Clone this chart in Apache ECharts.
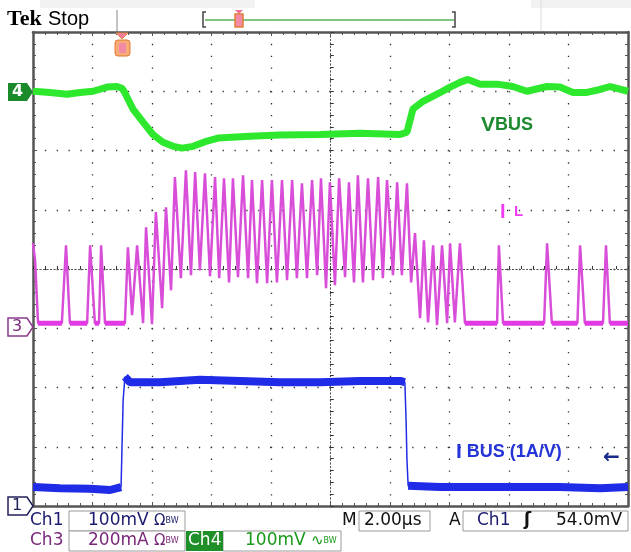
<!DOCTYPE html>
<html>
<head>
<meta charset="utf-8">
<script src="https://cdn.jsdelivr.net/npm/echarts@6/dist/echarts.min.js"></script>
<style>
  html, body { margin: 0; padding: 0; background: #fff; }
  #myChart { width: 631px; height: 552px; }
</style>
</head>
<body>
<div id="myChart"></div>
<script>
// time is in µs from the screen centre, 2.00µs/div
// Ch4 VBUS (AC, mV), Ch3 IL (mA), Ch1 IBUS (mV, 1A/V)
const ch4Time = [-10.00, -9.43, -8.86, -8.42, -7.98, -7.51, -7.18, -7.01, -6.94, -6.64, -6.30, -5.97, -5.63, -5.29,
  -4.99, -4.62, -4.15, -3.78, -2.71, -1.71, -0.35, 0.99, 2.34, 2.57, 2.77, 3.11, 3.58, 4.02, 4.35, 4.62, 5.03,
  5.60, 6.13, 6.60, 7.28, 7.71, 8.15, 8.62, 9.06, 9.40, 10.00];
const ch4Mv = [0, -2, -5, -2, 0, 7, 8, 5, 0, -30, -52, -73, -86, -93,
  -96, -93, -84, -79, -76, -74, -73, -71, -73, -69, -30, -17, -5, 7, 15, 20, 12,
  12, 8, 0, 8, 7, -2, -2, 3, 8, 0];

const ch3Time = [-10.00, -9.93, -9.83, -9.03, -8.89, -8.76, -8.18, -8.08, -7.92, -7.78, -7.71, -7.58, -6.91,
  -6.81, -6.67, -6.50, -6.30, -6.20, -6.00, -5.87, -5.66, -5.53, -5.36, -5.23, -5.03, -4.86, -4.69, -4.55, -4.39,
  -4.22, -4.05, -3.88, -3.74, -3.58, -3.41, -3.28, -3.11, -2.94, -2.77, -2.64, -2.47, -2.30, -2.13, -1.97, -1.80,
  -1.63, -1.46, -1.29, -1.13, -0.96, -0.79, -0.62, -0.45, -0.32, -0.15, -0.02, 0.15, 0.29, 0.49, 0.62, 0.79,
  0.92, 1.09, 1.26, 1.43, 1.60, 1.76, 1.90, 2.10, 2.24, 2.40, 2.57, 2.71, 2.84, 3.01, 3.14, 3.28, 3.45, 3.58,
  3.75, 3.92, 4.02, 4.18, 4.35, 4.52, 5.60, 5.66, 5.80, 7.18, 7.28, 7.44, 8.30, 8.39, 8.55, 9.16, 9.26, 9.39, 10.00];
const ch3Ma = [287, 230, 17, 17, 280, 17, 17, 280, 17, 17, 280, 17, 17,
  273, 44, 280, 17, 341, 14, 392, 68, 408, 128, 510, 169, 533, 179, 527, 196,
  523, 176, 510, 169, 506, 155, 506, 172, 516, 169, 500, 152, 500, 152, 500, 155,
  500, 162, 500, 169, 489, 169, 500, 179, 506, 135, 493, 145, 506, 172, 493, 155,
  516, 155, 506, 162, 510, 169, 500, 179, 493, 179, 489, 155, 321, 34, 297, 20, 280, 10,
  280, 17, 287, 20, 287, 17, 17, 280, 17, 17, 287, 17, 17, 280, 17, 17, 280, 17, 17];

const ch1Time = [-10.00, -9.09, -8.08, -7.41, -7.04, -7.01, -6.97, -6.91, -6.74, -5.73, -4.39, -3.04, -1.70,
  -0.35, 0.99, 2.34, 2.50, 2.54, 2.57, 2.61, 3.68, 5.03, 6.37, 7.71, 9.06, 10.00];
const ch1Mv = [32, 30, 29, 27, 32, 95, 179, 218, 209, 209, 213, 211, 209,
  209, 211, 211, 209, 145, 78, 34, 32, 32, 32, 32, 30, 32];

// vertical position (div) of each channel's ground marker and its scale
const ch4Pos = 3, ch4PerDiv = 100;
const ch3Pos = -1, ch3PerDiv = 200;
const ch1Pos = -4, ch1PerDiv = 100;

function toDiv(ts, vs, pos, perDiv) {
  return ts.map((t, i) => [t, pos + vs[i] / perDiv]);
}
// flat stretches get a thick stroke to look like the noise band
function noiseBand(pts, maxJump) {
  const out = [];
  for (let i = 0; i < pts.length - 1; i++) {
    if (Math.abs(pts[i + 1][1] - pts[i][1]) <= maxJump) {
      out.push(pts[i], pts[i + 1]);
    } else {
      out.push([NaN, NaN]);
    }
  }
  return out;
}

const ch4 = toDiv(ch4Time, ch4Mv, ch4Pos, ch4PerDiv);
const ch3 = toDiv(ch3Time, ch3Ma, ch3Pos, ch3PerDiv);
const ch1 = toDiv(ch1Time, ch1Mv, ch1Pos, ch1PerDiv);

const chart = echarts.init(document.getElementById('myChart'));

const dots = { show: true, lineStyle: { color: '#333', width: 1.3, type: [1.3, 10.55] } };

function centreX(inside, grid) {
  return {
    type: 'value', min: -10, max: 10, interval: 2,
    axisLabel: { show: false },
    axisLine: { show: true, onZero: true, onZeroAxisIndex: 0, lineStyle: { color: '#555', type: [1, 2.5] } },
    axisTick: { show: true, inside: inside, length: 3, lineStyle: { color: '#333' } },
    minorTick: { show: true, splitNumber: 5, length: 3, lineStyle: { color: '#333' } },
    splitLine: grid ? dots : { show: false }
  };
}
function centreY(inside, grid) {
  return {
    type: 'value', min: -4, max: 4, interval: 1,
    axisLabel: { show: false },
    axisLine: { show: true, onZero: true, onZeroAxisIndex: 0, lineStyle: { color: '#555', type: [1, 2.5] } },
    axisTick: { show: true, inside: inside, length: 3, lineStyle: { color: '#333' } },
    minorTick: { show: true, splitNumber: 5, length: 3, lineStyle: { color: '#333' } },
    splitLine: grid ? dots : { show: false }
  };
}
function frame(position, min, max, interval) {
  return {
    type: 'value', position: position, min: min, max: max, interval: interval,
    axisLabel: { show: false },
    axisLine: { show: true, onZero: false, lineStyle: { color: '#555', width: 2.5 } },
    axisTick: { show: true, inside: true, length: 4, lineStyle: { color: '#555' } },
    minorTick: { show: true, splitNumber: 5, length: 3, lineStyle: { color: '#555' } },
    splitLine: { show: false }
  };
}

function txt(x, y, s, font, fill, rich) {
  const style = { x: x, y: y, text: s, font: font, fill: fill, verticalAlign: 'middle' };
  if (rich) style.rich = rich;
  return { type: 'text', z: 100, style: style };
}
function box(x, y, w, h) {
  return { type: 'rect', z: 90, shape: { x: x, y: y, width: w, height: h },
    style: { fill: '#fff', stroke: '#9a9a9a', lineWidth: 1 } };
}
const ro = '17px "DejaVu Sans"';
const bw = { t: { font: ro }, o: { font: '15px "DejaVu Sans"' }, s: { font: '8px "DejaVu Sans"' } };
function lbl(big, small, bigSize, smallSize, fill) {
  return {
    a: { font: 'bold ' + bigSize + 'px "Liberation Sans"', fill: fill },
    b: { font: 'bold ' + smallSize + 'px "Liberation Sans"', fill: fill }
  };
}

let option = {
  animation: false,
  backgroundColor: '#fff',
  grid: { left: 33, right: 3, top: 32, bottom: 46, outerBoundsMode: 'none' },
  xAxis: [centreX(true, true), centreX(false, false), frame('top', -10, 10, 2), frame('bottom', -10, 10, 2)],
  yAxis: [centreY(true, true), centreY(false, false), frame('left', -4, 4, 1), frame('right', -4, 4, 1)],
  series: [
    { name: 'IL', type: 'line', data: ch3, showSymbol: false, z: 3,
      lineStyle: { color: '#d84ed8', width: 2.5 } },
    { name: 'IL noise', type: 'line', data: noiseBand(ch3, 0.1), showSymbol: false, z: 3,
      lineStyle: { color: '#e23ae2', width: 5 } },
    { name: 'VBUS', type: 'line', data: ch4, showSymbol: false, z: 4,
      lineStyle: { color: '#2ee82e', width: 7 } },
    { name: 'IBUS', type: 'line', data: ch1, showSymbol: false, z: 5,
      lineStyle: { color: '#1f2be6', width: 1.5 } },
    { name: 'IBUS noise', type: 'line', data: noiseBand(ch1, 0.25), showSymbol: false, z: 5,
      lineStyle: { color: '#1f2be6', width: 8 } }
  ],
  graphic: [
    // header
    { type: 'rect', z: 1, shape: { x: 40, y: 0, width: 215, height: 8 }, style: { fill: '#f2f2f2' } },
    { type: 'rect', z: 1, shape: { x: 531, y: 0, width: 100, height: 8 }, style: { fill: '#f2f2f2' } },
    txt(7, 19, 'Tek', 'bold 22px "Liberation Serif"', '#000'),
    txt(48, 19, 'Stop', '20px "Liberation Sans"', '#000'),
    { type: 'line', z: 100, shape: { x1: 117, y1: 10, x2: 117, y2: 31 }, style: { stroke: '#888', lineWidth: 1 } },
    { type: 'line', z: 100, shape: { x1: 541, y1: 0, x2: 541, y2: 31 }, style: { stroke: '#ddd', lineWidth: 1 } },
    { type: 'line', z: 100, shape: { x1: 205, y1: 20, x2: 454, y2: 20 }, style: { stroke: '#80c680', lineWidth: 2 } },
    { type: 'polyline', z: 100, shape: { points: [[206, 12], [203, 12], [203, 27], [206, 27]] }, style: { stroke: '#444', lineWidth: 1.5, fill: null } },
    { type: 'polyline', z: 100, shape: { points: [[452, 12], [455, 12], [455, 27], [452, 27]] }, style: { stroke: '#444', lineWidth: 1.5, fill: null } },
    { type: 'polygon', z: 100, shape: { points: [[235, 10], [243, 10], [239, 14]] }, style: { fill: '#f07090' } },
    { type: 'rect', z: 100, shape: { x: 235, y: 14, width: 8, height: 13 }, style: { fill: '#f58aa5', stroke: '#e0803a', lineWidth: 1.5 } },
    // trigger position marker
    { type: 'polygon', z: 100, shape: { points: [[116, 33], [128, 33], [122, 39]] }, style: { fill: '#f27a9a', stroke: '#e8904a' } },
    { type: 'rect', z: 100, shape: { x: 115, y: 40, width: 15, height: 16, r: 3 }, style: { fill: '#f8ac78', stroke: '#e07a30', lineWidth: 1 } },
    { type: 'rect', z: 101, shape: { x: 119, y: 43, width: 7, height: 10 }, style: { fill: '#f38aa8' } },
    // channel ground markers
    { type: 'polygon', z: 100, shape: { points: [[8, 83], [27, 83], [33, 92], [27, 101], [8, 101]] }, style: { fill: '#1b8a2a' } },
    txt(12, 92, '4', 'bold 16px "DejaVu Sans"', '#fff'),
    { type: 'polygon', z: 100, shape: { points: [[8, 318], [27, 318], [33, 327], [27, 336], [8, 336]] }, style: { fill: '#fff', stroke: '#8b3a8b', lineWidth: 1.5 } },
    txt(12, 327, '3', '16px "DejaVu Sans"', '#7a2a7a'),
    { type: 'polygon', z: 100, shape: { points: [[8, 497], [27, 497], [33, 506], [27, 515], [8, 515]] }, style: { fill: '#fff', stroke: '#22225a', lineWidth: 1.5 } },
    txt(12, 506, '1', '16px "DejaVu Sans"', '#22225a'),
    txt(603, 458, '←', 'bold 20px "DejaVu Sans"', '#1a2a8a'),
    // trace labels
    txt(481, 125, '{a|V}{b|BUS}', '', '#1e8a30', lbl('V', 'BUS', 21, 18, '#1e8a30')),
    txt(500, 212, '{a|I}{b|  L}', '', '#f03cf0', lbl('I', 'L', 20, 15, '#f03cf0')),
    txt(456, 452, '{a|I}{b| BUS (1A/V)}', '', '#2434d8', lbl('I', 'BUS', 21, 18, '#2434d8')),
    // readouts, row 1
    txt(30, 521, 'Ch1', ro, '#1a1a6e'),
    box(69, 511, 116, 20),
    txt(88, 521, '{t|100mV} {o|Ω}{s|BW}', ro, '#1a1a6e', bw),
    txt(342, 521, 'M', ro, '#111'),
    box(359, 511, 71, 20),
    txt(364, 521, '2.00µs', ro, '#111'),
    txt(449, 521, 'A', ro, '#111'),
    box(463, 511, 165, 20),
    txt(477, 521, 'Ch1', ro, '#1a1a6e'),
    txt(524, 521, 'ʃ', 'bold 17px "DejaVu Sans"', '#111'),
    txt(556, 521, '54.0mV', ro, '#111'),
    // readouts, row 2
    txt(30, 541, 'Ch3', ro, '#7a2a7a'),
    box(69, 531, 116, 20),
    txt(88, 541, '{t|200mA} {o|Ω}{s|BW}', ro, '#7a2a7a', bw),
    { type: 'rect', z: 95, shape: { x: 186, y: 531, width: 37, height: 20 }, style: { fill: '#1f8f2a' } },
    txt(188, 541, 'Ch4', ro, '#fff'),
    box(223, 531, 118, 20),
    txt(245, 541, '{t|100mV} {o|∿}{s|BW}', ro, '#1a9a1a', bw)
  ]
};

chart.setOption(option);
</script>
</body>
</html>
